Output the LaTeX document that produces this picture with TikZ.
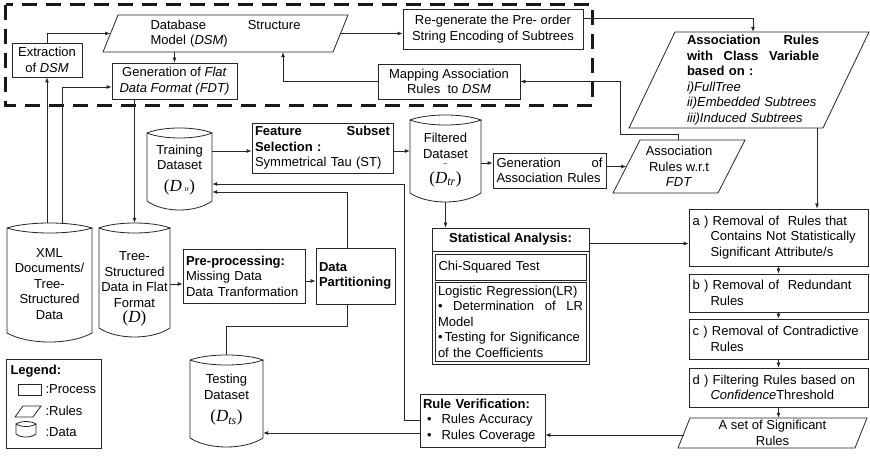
\documentclass[tikz,border=0pt]{standalone}
\usepackage{fontspec}
\setmainfont{Liberation Sans}
\newfontfamily\tnr{Liberation Serif}
\usetikzlibrary{arrows.meta}
\newcommand\fs{\fontsize{13}{15.5}\selectfont}
\newcommand\bigD[1]{{\tnr\fontsize{17}{17}\selectfont(\textit{D}#1)}}
\tikzset{
 ln/.style={line width=0.8pt, draw=black!85},
 arr/.style={ln, -{Latex[length=5pt,width=4pt]}},
 proc/.style={draw=black!85, line width=0.8pt, inner sep=3pt},
 dashbox/.style={line width=3pt, draw=black!90, dash pattern=on 15pt off 9pt}
}
% rectangle box: opts, name, x1,y1,x2,y2, text
\newcommand\pbox[7][]{%
  \node[proc, minimum width={(#5-#3)*1pt}, minimum height={(#6-#4)*1pt}, #1] (#2) at ({(#3+#5)/2},{(#4+#6)/2}) {#7};}
% parallelogram: opts, name, x top-left, y top, x top-right, y bottom, slant, text
\newcommand\para[8][]{%
  \draw[ln] (#3,#4) -- (#5,#4) -- ({#5-#7},#6) -- ({#3-#7},#6) -- cycle;
  \node[inner sep=0pt, minimum width={(#5-#3)*1pt}, minimum height={(#6-#4)*1pt}, align=center, #1] (#2) at ({(#3+#5-#7)/2},{(#4+#6)/2}) {#8};}
% cylinder: name, x1, ytop(peak), x2, ybot(lowest), ytext, text
\newcommand\dbcyl[7]{%
  \draw[ln] (#2,{#3+5}) .. controls ({#2+0.25*(#4-#2)},{#3-1.67}) and ({#4-0.25*(#4-#2)},{#3-1.67}) .. (#4,{#3+5})
    .. controls ({#4-0.25*(#4-#2)},{#3+11.67}) and ({#2+0.25*(#4-#2)},{#3+11.67}) .. (#2,{#3+5})
    -- (#2,{#5-9}) .. controls ({#2+0.25*(#4-#2)},{#5+3}) and ({#4-0.25*(#4-#2)},{#5+3}) .. (#4,{#5-9}) -- (#4,{#3+5});
  \node[inner sep=0pt, minimum width={(#4-#2)*1pt}, minimum height={(#5-#3)*1pt}] (#1) at ({(#2+#4)/2},{(#3+#5)/2}) {};
  \node[inner sep=0pt, align=center] (#1txt) at ({(#2+#4)/2},#6) {#7};}
\begin{document}
\begin{tikzpicture}[x=1pt,y=-1pt,font=\fs]
\useasboundingbox (0,0) rectangle (870,457);
\fill[white] (0,0) rectangle (870,457);

% ---- top dashed region
\pbox[align=center]{extr}{12}{43}{82}{77}{Extraction\\of \textit{DSM}}
\para[text width=150pt, align=left]{dsm}{118}{15}{348}{52}{15}{Database\hfill Structure\\Model (\textit{DSM})}
\pbox[align=center]{gfdt}{112}{63}{237}{99}{Generation of \textit{Flat}\\\textit{Data Format (FDT)}}
\pbox[align=center]{regen}{403}{9}{583}{49}{Re-generate the Pre- order\\String Encoding of Subtrees}
\pbox[align=center]{map}{378}{64}{520}{99}{Mapping Association\\Rules~ to \textit{DSM}}
\draw[dashbox] (5.5,5) rectangle (592.5,105.5);

% ---- rules with class variable
\para[text width=132pt, align=left, xshift=4pt]{acv}{675}{32}{869}{128}{46}{\textbf{Association\hfill Rules}\\\textbf{with\hfill Class\hfill Variable}\\\textbf{based on :}\\\textit{i)FullTree}\\\textit{ii)Embedded Subtrees}\\\textit{iii)Induced Subtrees}}

% ---- data cylinders
\dbcyl{xml}{7}{223}{92}{342}{284}{XML\\Documents/\\Tree-\\Structured\\Data}
\dbcyl{tree}{99}{223}{170}{337}{289}{Tree-\\Structured\\Data in Flat\\Format\\\bigD{}}
\dbcyl{train}{147}{128}{212}{210}{170}{Training\\Dataset\\[6pt]\bigD{\,{\fontsize{7}{7}\selectfont\textit{tr}}}}
\dbcyl{filt}{410}{115}{481}{202}{160}{Filtered\\Dataset\\[-7pt]{\fontsize{7}{7}\selectfont\textasciitilde}\\[1pt]\bigD{\textsubscript{\textit{tr}}}}
\dbcyl{test}{190}{355}{263}{447}{400}{Testing\\Dataset\\[7pt]\bigD{\textsubscript{\textit{ts}}}}

% ---- middle process boxes
\pbox[text width=135pt, align=left]{feat}{252}{123}{393}{173}{\textbf{Feature\hfill Subset}\\\textbf{Selection :}\\Symmetrical Tau (ST)}
\pbox[text width=106pt, align=left]{gar}{493}{153}{606}{188}{Generation\hfill of\\Association Rules}
\para{fdt}{640}{140}{745}{193}{27}{Association\\Rules w.r.t\\\textit{FDT}}
\pbox[text width=116pt, align=left]{pre}{183}{249}{305}{303}{\textbf{Pre-processing:}\\Missing Data\\Data Tranformation}
\pbox[text width=73pt, align=left]{part}{316}{248}{395}{304}{\textbf{Data}\\\textbf{Partitioning}}

% ---- statistical analysis
\pbox{stat}{432}{228}{589}{364}{}
\node[font=\fs\bfseries] (stath) at (510.5,239.5) {Statistical Analysis:};
\draw[ln] (432,251) -- (589,251);
\pbox[text width=144pt, align=left, inner sep=2pt]{chi}{435}{254}{586}{280}{Chi-Squared Test}
\pbox[text width=145pt, align=left, inner sep=1pt]{lr}{435}{282}{586}{361}{Logistic Regression(LR)\\\textbullet\hfill Determination\hfill of\hfill LR\\Model\\\textbullet\,Testing for Significance\\of the Coefficients}

% ---- rule filtering chain
\pbox[text width=172pt, align=left]{ra}{689}{209}{868}{266}{a ) Removal of~ Rules that\\\hspace*{18pt}Contains Not Statistically\\\hspace*{18pt}Significant Attribute/s}
\pbox[text width=172pt, align=left]{rb}{689}{274}{868}{312}{b ) Removal of~ Redundant\\\hspace*{18pt}Rules}
\pbox[text width=172pt, align=left]{rc}{689}{319}{868}{359}{c ) Removal of Contradictive\\\hspace*{18pt}Rules}
\pbox[text width=172pt, align=left]{rd}{689}{368}{868}{407}{d ) Filtering Rules based on\\\hspace*{18pt}\textit{Confidence}Threshold}
\para{set}{690}{418}{867}{448}{12}{A set of Significant\\Rules}
\pbox[text width=119pt, align=left]{rv}{420}{394}{545}{447}{\textbf{Rule Verification:}\\\hspace*{4pt}\textbullet\hspace{10pt}Rules Accuracy\\\hspace*{4pt}\textbullet\hspace{10pt}Rules Coverage}

% ---- legend
\pbox{legend}{6}{359}{101}{448}{}
\node[anchor=west, font=\fs\bfseries] (legt) at (7,371) {Legend:};
\draw[ln] (18,384) rectangle (41,395);
\node[anchor=west] (lproc) at (42,389.5) {:Process};
\draw[ln] (23,406) -- (41,406) -- (33,417) -- (15,417) -- cycle;
\node[anchor=west] (lrul) at (42,411) {:Rules};
\draw[ln] (16,424) .. controls (21,420.7) and (31,420.7) .. (36,424) .. controls (31,427.3) and (21,427.3) .. (16,424) -- (16,434) .. controls (21,438) and (31,438) .. (36,434) -- (36,424);
\node[anchor=west] (ldat) at (42,432) {:Data};

% ---- connectors
\draw[arr] (extr.north) |- (dsm.west);
\draw[arr] (dsm.east) -- (dsm.east -| regen.west);
\draw[arr] (gfdt.north |- dsm.south) -- (gfdt.north);
\draw[arr] (map.west) -| ([xshift=57.5pt]dsm.south);
\draw[arr] ([yshift=11pt]regen.east) -| (acv.north);
\draw[arr] ([xshift=-1pt]fdt.north) -- ++(0,-5) -| ([xshift=100pt]map.east) -- (map.east);
\draw[arr] (extr.south |- xml.north) -- (extr.south);
\draw[arr] ([xshift=12.5pt]xml.north) |- ([yshift=-6pt]gfdt.west);
\draw[arr] (gfdt.south -| tree.north) -- (tree.north);
\coordinate (c1) at ([yshift=-8pt]pre.west);
\draw[arr] (c1 -| tree.east) -- (c1);
\draw[arr] ([yshift=-5pt]pre.east) -- ([yshift=-5pt]part.west);
\draw[arr] ([xshift=-8.5pt]part.north) |- ([yshift=-23pt]train.east);
\draw[ln] ([xshift=-8.5pt]part.south) -- ++(0,22) -| (test.north);
\draw[arr] (rv.west) -- ++(-15,0) |- ([yshift=-15pt]train.east);
\coordinate (c2) at ([yshift=-12.5pt]rv.west);
\draw[arr] (c2) -- (c2 -| test.east);
\coordinate (c3) at ([yshift=-2pt]set.west);
\draw[arr] (c3) -- (c3 -| rv.east);
\coordinate (c4) at ([yshift=-3pt]feat.west);
\draw[arr] (c4 -| train.east) -- (c4);
\coordinate (c5) at ([yshift=-3pt]feat.east);
\draw[arr] (c5) -- (c5 -| filt.west);
\coordinate (c6) at ([yshift=7.5pt]gar.west);
\draw[arr] (c6 -| filt.east) -- (c6);
\draw[arr] (gar.east |- fdt.west) -- (fdt.west);
\draw[arr] (filt.south) -- (filt.south |- stat.north);
\coordinate (c7) at ([yshift=-16pt]stat.north east);
\draw[arr] (c7) -- (c7 -| ra.west);
\coordinate (c8) at ([xshift=38.5pt]ra.north);
\draw[arr] (c8 |- acv.south) -- (c8);
\draw[arr] (ra.south) -- (rb.north);
\draw[arr] (rb.south) -- (rc.north);
\draw[arr] (rc.south) -- (rd.north);
\draw[arr] (rd.south) -- (rd.south |- set.north);
\end{tikzpicture}
\end{document}
